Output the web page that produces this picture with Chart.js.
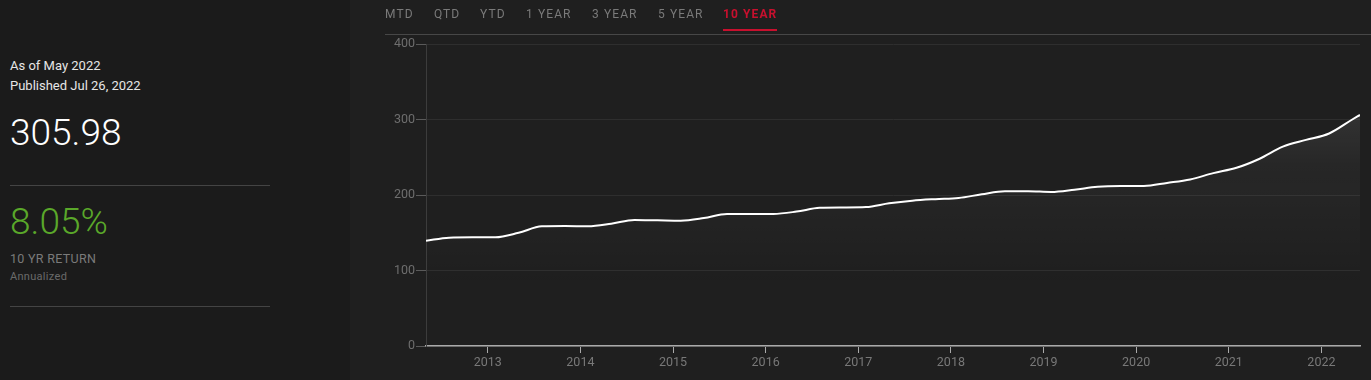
<!DOCTYPE html>
<html>
<head>
<meta charset="utf-8">
<script src="https://cdn.jsdelivr.net/npm/chart.js@4.4.0/dist/chart.umd.min.js"></script>
<style>
  html, body { margin: 0; padding: 0; width: 1371px; height: 380px; overflow: hidden; background: #1f1f1f; font-family: Roboto, "Liberation Sans", sans-serif; }
  #side { position: absolute; left: 0; top: 0; width: 350px; height: 380px; background: #1b1b1b; }
  .t { position: absolute; left: 10px; white-space: nowrap; }
  .rule { position: absolute; left: 10px; width: 260px; height: 1px; background: #444; }
  #tabs { position: absolute; left: 385px; top: 0; right: 0; height: 34px; border-bottom: 1px solid #474747; }
  .tab { position: absolute; top: 7px; font-size: 12px; letter-spacing: 1.1px; color: #7a7a7a; }
  .tab.on { color: #c8102e; font-weight: 700; border-bottom: 2px solid #c8102e; padding-bottom: 8px; }
  #wrap { position: absolute; left: 350px; top: 0; width: 1021px; height: 380px; }
</style>
</head>
<body>
<div id="side">
  <div class="t" style="top:58px;font-size:13px;color:#e6e6e6">As of May 2022</div>
  <div class="t" style="top:78px;font-size:13px;color:#e6e6e6">Published Jul 26, 2022</div>
  <div class="t" style="top:111px;font-size:37px;font-weight:300;color:#ffffff">305.98</div>
  <div class="rule" style="top:185px"></div>
  <div class="t" style="top:200px;font-size:37px;font-weight:300;color:#5aa82a">8.05%</div>
  <div class="t" style="top:251px;font-size:12.5px;letter-spacing:0.3px;color:#7a7a7a">10 YR RETURN</div>
  <div class="t" style="top:270px;font-size:11px;letter-spacing:0.3px;color:#6a6a6a">Annualized</div>
  <div class="rule" style="top:306px"></div>
</div>
<div id="wrap"><canvas id="chart"></canvas></div>
<div id="tabs">
  <span class="tab" style="left:0px">MTD</span>
  <span class="tab" style="left:49px">QTD</span>
  <span class="tab" style="left:95px">YTD</span>
  <span class="tab" style="left:141px">1 YEAR</span>
  <span class="tab" style="left:207px">3 YEAR</span>
  <span class="tab" style="left:273px">5 YEAR</span>
  <span class="tab on" style="left:338px">10 YEAR</span>
</div>
<script>
// month-end dates (quarterly + final month) and index level
const dates = [
  '2012-04', '2012-07', '2012-10', '2013-01', '2013-04', '2013-07', '2013-10',
  '2014-01', '2014-04', '2014-07', '2014-10', '2015-01', '2015-04', '2015-07', '2015-10',
  '2016-01', '2016-04', '2016-07', '2016-10', '2017-01', '2017-04', '2017-07', '2017-10',
  '2018-01', '2018-04', '2018-07', '2018-10', '2019-01', '2019-04', '2019-07', '2019-10',
  '2020-01', '2020-04', '2020-07', '2020-10', '2021-01', '2021-04', '2021-07', '2021-10',
  '2022-01', '2022-04', '2022-05'
];
const values = [
  139.5, 143.5, 144, 144, 150, 158.5, 159,
  158.5, 162, 167, 166.5, 166, 169.5, 175, 175,
  175, 178, 183, 183.5, 184, 189, 192.5, 194.5,
  196, 201, 205, 205, 204, 207, 211, 212,
  212, 216, 220.6, 229, 236, 248, 264, 273,
  281.5, 300, 305.98
];
const yTicks = [0, 100, 200, 300, 400];
const xYears = [2013, 2014, 2015, 2016, 2017, 2018, 2019, 2020, 2021, 2022];

// decimal year at month end
const toYear = s => { const [y, m] = s.split('-').map(Number); return y + m / 12; };
const points = dates.map((d, i) => ({ x: toYear(d), y: values[i] }));

const tickFont = { family: 'Roboto', size: 12.5 };

new Chart(document.getElementById('chart'), {
  type: 'line',
  data: {
    datasets: [{
      data: points,
      borderColor: '#ffffff',
      borderWidth: 2,
      pointRadius: 0,
      cubicInterpolationMode: 'monotone',
      fill: 'origin',
      backgroundColor: (ctx) => {
        const area = ctx.chart.chartArea;
        if (!area) return 'rgba(255,255,255,0.05)';
        const g = ctx.chart.ctx.createLinearGradient(0, area.top, 0, area.bottom);
        g.addColorStop(0, 'rgba(255,255,255,0.16)');
        g.addColorStop(0.4, 'rgba(255,255,255,0.04)');
        g.addColorStop(0.8, 'rgba(255,255,255,0)');
        return g;
      }
    }]
  },
  options: {
    responsive: true,
    maintainAspectRatio: false,
    animation: false,
    layout: { padding: { top: 44, right: 11, left: 0, bottom: 0 } },
    plugins: { legend: { display: false }, tooltip: { enabled: false } },
    scales: {
      x: {
        type: 'linear',
        min: toYear(dates[0]),
        max: toYear(dates[dates.length - 1]),
        afterFit: s => { s.height = 34; },
        afterBuildTicks: s => { s.ticks = xYears.map(v => ({ value: v })); },
        ticks: {
          color: '#787878', font: tickFont, padding: 2, maxRotation: 0,
          callback: v => String(v)
        },
        grid: { drawOnChartArea: false, drawTicks: true, tickLength: 7, tickColor: '#aaaaaa' },
        border: { color: '#aaaaaa', width: 1.5 }
      },
      y: {
        min: 0,
        max: 400,
        afterFit: s => { s.width = 76; },
        afterBuildTicks: s => { s.ticks = yTicks.map(v => ({ value: v })); },
        ticks: { color: '#6e6e6e', font: tickFont, padding: 1 },
        grid: { color: '#2e2e2e', tickColor: '#5a5a5a', tickLength: 10 },
        border: { color: '#3c3c3c' }
      }
    }
  }
});
</script>
</body>
</html>
